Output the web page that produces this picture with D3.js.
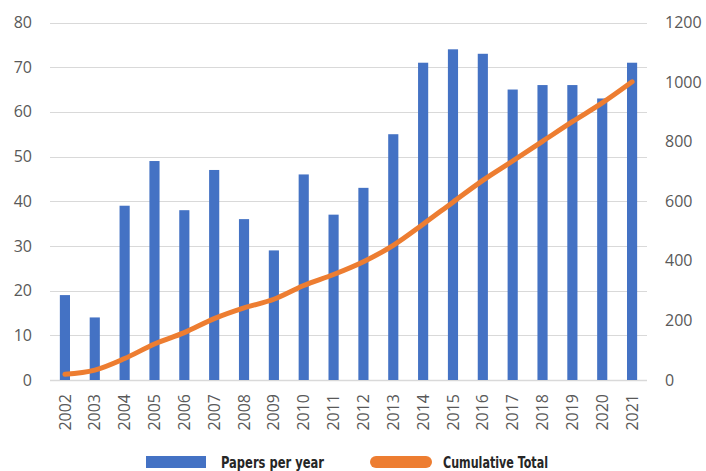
<!DOCTYPE html>
<html>
<head>
<meta charset="utf-8">
<script src="https://cdn.jsdelivr.net/npm/d3@7"></script>
<style>
  body { margin: 0; background: #fff; }
  svg { display: block; }
</style>
</head>
<body>
<svg id="chart" width="706" height="471"></svg>
<script>
// Data
const years = ["2002", "2003", "2004", "2005", "2006", "2007", "2008", "2009", "2010", "2011",
  "2012", "2013", "2014", "2015", "2016", "2017", "2018", "2019", "2020", "2021"];
const papersPerYear = [19, 14, 39, 49, 38, 47, 36, 29, 46, 37, 43, 55, 71, 74, 73, 65, 66, 66, 63, 71];
const cumulativeTotal = [19, 33, 72, 121, 159, 206, 242, 271, 317, 354, 397, 452, 523, 597, 670, 735, 801, 867, 930, 1001];
const leftTicks = [0, 10, 20, 30, 40, 50, 60, 70, 80];
const rightTicks = [0, 200, 400, 600, 800, 1000, 1200];
const seriesNames = ["Papers per year", "Cumulative Total"];

const svg = d3.select("#chart");

// Plot area
const plotLeft = 50, plotRight = 647, plotTop = 22.5, plotBottom = 380;

const x = d3.scaleBand()
  .domain(years)
  .range([plotLeft, plotRight])
  .paddingInner(0.66)
  .paddingOuter(0.33);

const yLeft = d3.scaleLinear().domain([0, 80]).range([plotBottom, plotTop]);
const yRight = d3.scaleLinear().domain([0, 1200]).range([plotBottom, plotTop]);

// Gridlines
svg.append("g")
  .selectAll("line")
  .data(leftTicks)
  .join("line")
  .attr("x1", plotLeft)
  .attr("x2", plotRight)
  .attr("y1", d => Math.round(yLeft(d)) + 0.5)
  .attr("y2", d => Math.round(yLeft(d)) + 0.5)
  .attr("stroke", "#d9d9d9")
  .attr("stroke-width", d => d === 0 ? 1.5 : 1);

// Left axis labels
svg.append("g")
  .attr("font-family", "'Open Sans', 'Noto Sans', sans-serif")
  .attr("font-size", 16)
  .attr("fill", "#595959")
  .selectAll("text")
  .data(leftTicks)
  .join("text")
  .attr("x", 32)
  .attr("y", d => yLeft(d))
  .attr("dy", "0.35em")
  .attr("text-anchor", "end")
  .text(d => d);

// Right axis labels
svg.append("g")
  .attr("font-family", "'Open Sans', 'Noto Sans', sans-serif")
  .attr("font-size", 16)
  .attr("fill", "#595959")
  .selectAll("text")
  .data(rightTicks)
  .join("text")
  .attr("x", 665)
  .attr("y", d => yRight(d))
  .attr("dy", "0.35em")
  .attr("text-anchor", "start")
  .text(d => d);

// X labels, rotated
svg.append("g")
  .attr("font-family", "'Open Sans', 'Noto Sans', sans-serif")
  .attr("font-size", 16)
  .attr("fill", "#595959")
  .selectAll("text")
  .data(years)
  .join("text")
  .attr("transform", d => `translate(${x(d) + x.bandwidth() / 2},${plotBottom + 14}) rotate(-90)`)
  .attr("dy", "0.35em")
  .attr("text-anchor", "end")
  .text(d => d);

// Bars
svg.append("g")
  .selectAll("rect")
  .data(years)
  .join("rect")
  .attr("x", d => x(d))
  .attr("width", x.bandwidth())
  .attr("y", (d, i) => yLeft(papersPerYear[i]))
  .attr("height", (d, i) => plotBottom - yLeft(papersPerYear[i]))
  .attr("fill", "#4472c4");

// Cumulative line
const line = d3.line()
  .x((d, i) => x(years[i]) + x.bandwidth() / 2)
  .y(d => yRight(d))
  .curve(d3.curveMonotoneX);

svg.append("path")
  .datum(cumulativeTotal)
  .attr("fill", "none")
  .attr("stroke", "#ed7d31")
  .attr("stroke-width", 5)
  .attr("stroke-linecap", "round")
  .attr("stroke-linejoin", "round")
  .attr("d", line);

// Legend
const legend = svg.append("g")
  .attr("font-family", "'DejaVu Sans Condensed', 'DejaVu Sans', sans-serif")
  .attr("font-weight", "bold")
  .attr("font-size", 16)
  .attr("fill", "#262626");

legend.append("rect")
  .attr("x", 146).attr("y", 456)
  .attr("width", 60).attr("height", 12)
  .attr("fill", "#4472c4");
legend.append("text")
  .attr("x", 221).attr("y", 462)
  .attr("dy", "0.35em")
  .attr("textLength", 103)
  .attr("lengthAdjust", "spacingAndGlyphs")
  .text(seriesNames[0]);

legend.append("line")
  .attr("x1", 376).attr("x2", 426)
  .attr("y1", 462).attr("y2", 462)
  .attr("stroke", "#ed7d31")
  .attr("stroke-width", 12)
  .attr("stroke-linecap", "round");
legend.append("text")
  .attr("x", 443).attr("y", 462)
  .attr("dy", "0.35em")
  .attr("textLength", 105)
  .attr("lengthAdjust", "spacingAndGlyphs")
  .text(seriesNames[1]);
</script>
</body>
</html>
